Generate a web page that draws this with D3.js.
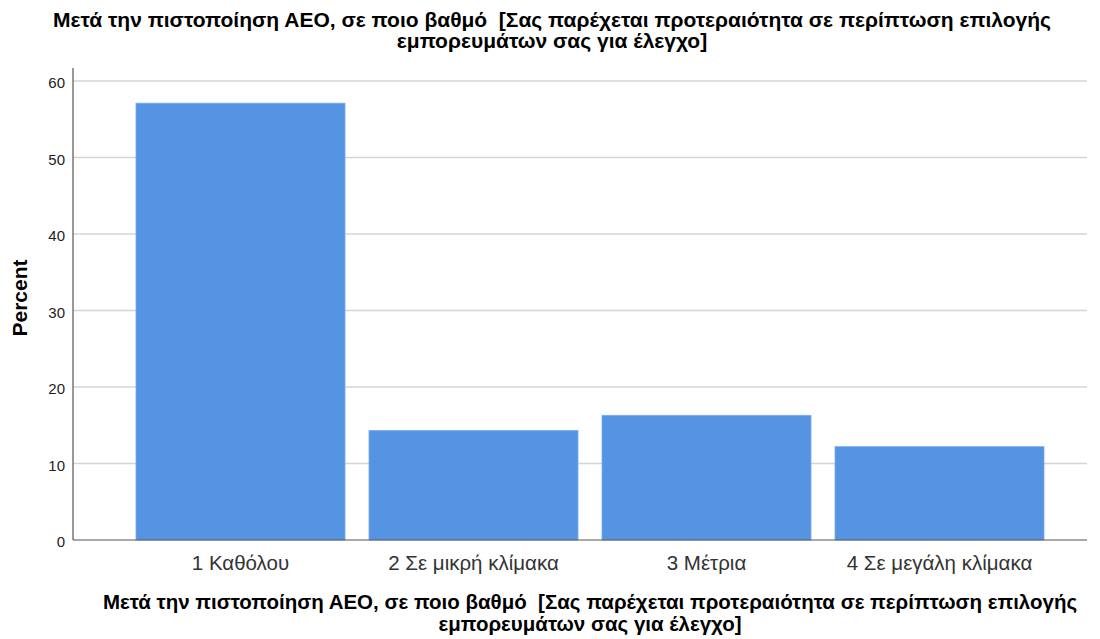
<!DOCTYPE html>
<html>
<head>
<meta charset="utf-8">
<script src="https://cdn.jsdelivr.net/npm/d3@7"></script>
<style>
  body { margin: 0; background: #fff; }
  text { font-family: "Liberation Sans", Arial, sans-serif; white-space: pre; }
</style>
</head>
<body>
<div id="chart"></div>
<script>
const categories = ['1 Καθόλου', '2 Σε μικρή κλίμακα', '3 Μέτρια', '4 Σε μεγάλη κλίμακα']
const percents = [57.1, 14.3, 16.3, 12.2]
const yTicks = [0, 10, 20, 30, 40, 50, 60]
const titleLines = ['Μετά την πιστοποίηση ΑΕΟ, σε ποιο βαθμό  [Σας παρέχεται προτεραιότητα σε περίπτωση επιλογής',
                    'εμπορευμάτων σας για έλεγχο]']

const width = 1100,
      height = 639

const plot = { left: 73, right: 1087, top: 68, bottom: 540 }

const svg = d3.select('#chart')
  .append('svg')
  .attr('width', width)
  .attr('height', height)

const x = d3.scaleBand()
  .domain(categories)
  .range([124, 1056])
  .paddingInner(0.103)
  .paddingOuter(0.0515)

const y = d3.scaleLinear()
  .domain([0, 60])
  .range([plot.bottom, 81])

// gridlines
svg.append('g')
  .selectAll('line')
  .data(yTicks.filter(d => d > 0))
  .enter()
  .append('line')
  .attr('x1', plot.left)
  .attr('x2', plot.right)
  .attr('y1', d => y(d))
  .attr('y2', d => y(d))
  .attr('stroke', '#d4d4d4')
  .attr('stroke-width', 1.5)

// bars
svg.append('g')
  .selectAll('rect')
  .data(percents)
  .enter()
  .append('rect')
  .attr('x', (d, i) => x(categories[i]))
  .attr('y', d => y(d))
  .attr('width', x.bandwidth())
  .attr('height', d => y(0) - y(d))
  .attr('fill', '#5594e3')
  .attr('stroke', '#7aaaea')
  .attr('stroke-width', 0.8)

// y axis
const yAxis = svg.append('g')
  .attr('transform', 'translate(' + plot.left + ',0)')
  .call(d3.axisLeft(y).tickValues(yTicks).tickSize(0).tickPadding(8))
yAxis.select('.domain').remove()
yAxis.selectAll('text')
  .attr('font-size', 15)
  .attr('dy', '0.45em')
  .attr('fill', '#222')
  .attr('font-family', '"Liberation Sans", Arial, sans-serif')

svg.append('line')
  .attr('x1', plot.left).attr('x2', plot.left)
  .attr('y1', plot.top).attr('y2', plot.bottom)
  .attr('stroke', '#555')
  .attr('stroke-width', 1.2)

// x axis
const xAxis = svg.append('g')
  .attr('transform', 'translate(0,' + plot.bottom + ')')
  .call(d3.axisBottom(x).tickSize(0).tickPadding(15))
xAxis.select('.domain').remove()
xAxis.selectAll('text')
  .attr('font-size', 20.5)
  .attr('fill', '#333')
  .attr('font-family', '"Liberation Sans", Arial, sans-serif')

svg.append('line')
  .attr('x1', plot.left).attr('x2', plot.right)
  .attr('y1', plot.bottom).attr('y2', plot.bottom)
  .attr('stroke', '#555')
  .attr('stroke-width', 1.2)

// title, one text per line
svg.append('g')
  .selectAll('text')
  .data(titleLines)
  .enter()
  .append('text')
  .attr('text-anchor', 'middle')
  .attr('font-size', 21)
  .attr('font-weight', 'bold')
  .attr('fill', '#000')
  .attr('x', 552)
  .attr('y', (d, i) => 27 + i * 21)
  .text(d => d)

// x axis title
svg.append('g')
  .selectAll('text')
  .data(titleLines)
  .enter()
  .append('text')
  .attr('text-anchor', 'middle')
  .attr('font-size', 20.5)
  .attr('font-weight', 'bold')
  .attr('fill', '#000')
  .attr('x', 590)
  .attr('y', (d, i) => 609 + i * 22)
  .text(d => d)

// y axis title
svg.append('text')
  .attr('transform', 'translate(27,298) rotate(-90)')
  .attr('text-anchor', 'middle')
  .attr('font-size', 21)
  .attr('font-weight', 'bold')
  .attr('fill', '#000')
  .text('Percent')
</script>
</body>
</html>
